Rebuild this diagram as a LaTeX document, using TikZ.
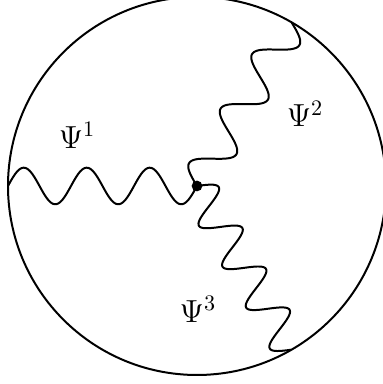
\documentclass[tikz,border=0pt]{standalone}
\usepackage{amsfonts,amsmath,amssymb}
\usepackage{tikz}
\usetikzlibrary{arrows.meta}

\begin{document}
\begin{tikzpicture}[line width=0.9pt,
  psilabel/.style={anchor=base west,inner sep=0pt,font=\fontsize{14.4}{17}\selectfont},
  wave/.style={domain=0:3,smooth,samples=160,variable=\x}]
\useasboundingbox(-3.127,-3.143)rectangle(2.952,2.952);
\coordinate(O)at(0,0);
\draw(O)circle(3);
% the three waves, all leaving the centre
\draw[wave,rotate=180]plot({\x},{0.29*sin(360*\x)});
\draw[wave,rotate=60]plot({\x},{0.29*sin(360*\x)});
\draw[wave,rotate=-60]plot({\x},{0.29*sin(480*\x)});
\fill(O)circle(0.085);
\node[psilabel](psi1)at(-2.21,0.6){$\Psi^1$};
\node[psilabel](psi2)at(1.41,0.94){$\Psi^2$};
\node[psilabel](psi3)at(-0.29,-2.16){$\Psi^3$};
\end{tikzpicture}
\end{document}
